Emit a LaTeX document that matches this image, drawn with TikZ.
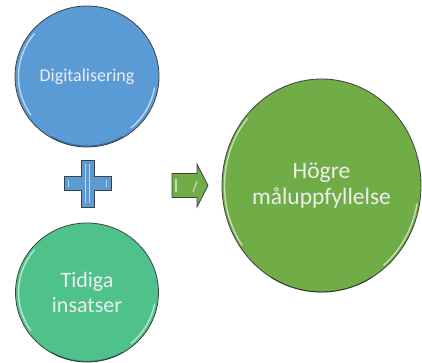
\documentclass[tikz,border=0pt]{standalone}
\usepackage{fontspec}
\setmainfont{Carlito}
\usetikzlibrary{shapes.geometric}

\definecolor{digblue}{HTML}{5B9BD5}
\definecolor{earlygreen}{HTML}{4FC28B}
\definecolor{goalgreen}{HTML}{70AD47}

\tikzset{
  bubble/.style={ellipse,draw=black!75,line width=0.8pt,inner sep=0pt,
    align=center,text=white!93!black},
  gloss/.style={white,line width=1.4pt,opacity=0.6,line cap=round},
  rim/.style={black,line width=1.2pt,opacity=0.3,line cap=round}
}

\begin{document}
\begin{tikzpicture}[x=1pt,y=1pt]
    \useasboundingbox (0,0) rectangle (422,362);

    % Two inputs on the left, the outcome on the right.
    \node[bubble,fill=digblue,minimum width=144,minimum height=141,
        font=\fontsize{18}{20}\selectfont] (dig) at (87,285.5) {Digitalisering};
    \node[bubble,fill=earlygreen,minimum width=143,minimum height=139,
        font=\fontsize{22}{25}\selectfont] (early) at (87,69.5) {Tidiga\\insatser};
    \node[bubble,fill=goalgreen,minimum width=199,minimum height=213,
        font=\fontsize{23.5}{26}\selectfont] (goal) at (321.5,176.5) {Högre\\måluppfyllelse};

    % Glass look: light streaks on the rim, darker lower edge.
    \draw[gloss] ([shift={(140:68.5 and 67)}]dig.center)
        arc[start angle=140,end angle=215,x radius=68.5,y radius=67];
    \draw[gloss] ([shift={(-10:68.5 and 67)}]dig.center)
        arc[start angle=-10,end angle=-50,x radius=68.5,y radius=67];
    \draw[rim] ([shift={(-60:71 and 69.5)}]dig.center)
        arc[start angle=-60,end angle=-120,x radius=71,y radius=69.5];

    \draw[gloss] ([shift={(140:68.5 and 66.5)}]early.center)
        arc[start angle=140,end angle=215,x radius=68.5,y radius=66.5];
    \draw[gloss] ([shift={(-10:68.5 and 66.5)}]early.center)
        arc[start angle=-10,end angle=-50,x radius=68.5,y radius=66.5];
    \draw[rim] ([shift={(-60:71 and 69)}]early.center)
        arc[start angle=-60,end angle=-120,x radius=71,y radius=69];

    \draw[gloss] ([shift={(140:97 and 104)}]goal.center)
        arc[start angle=140,end angle=215,x radius=97,y radius=104];
    \draw[gloss] ([shift={(-10:97 and 104)}]goal.center)
        arc[start angle=-10,end angle=-50,x radius=97,y radius=104];
    \draw[rim] ([shift={(-60:99.5 and 106.5)}]goal.center)
        arc[start angle=-60,end angle=-120,x radius=99.5,y radius=106.5];

    % Plus sign between the two inputs.
    \coordinate (plus) at (87.5,178.5);
    \filldraw[fill=digblue,draw=black!75,line width=0.8pt]
        ([shift={(-6.5,-23.5)}]plus) -- ++(13,0) -- ++(0,16.5) -- ++(17,0)
        -- ++(0,14) -- ++(-17,0) -- ++(0,16.5) -- ++(-13,0) -- ++(0,-16.5)
        -- ++(-17,0) -- ++(0,-14) -- ++(17,0) -- cycle;
    \draw[gloss,line width=1.2pt] ([shift={(-2,-19)}]plus) -- ++(0,38);
    \draw[gloss,line width=1.2pt] ([shift={(2,-19)}]plus) -- ++(0,38);
    \draw[gloss,line width=1.2pt] ([shift={(-19,-3)}]plus) -- ++(0,6);
    \draw[gloss,line width=1.2pt] ([shift={(19,-3)}]plus) -- ++(0,6);

    % Arrow pointing at the outcome.
    \coordinate (arrow) at (172,176.5);
    \filldraw[fill=goalgreen,draw=black!75,line width=0.8pt]
        ([shift={(0,-12)}]arrow) -- ++(25,0) -- ++(0,-9.5) -- ++(11,21.5)
        -- ++(-11,21.5) -- ++(0,-9.5) -- ++(-25,0) -- cycle;
    \draw[gloss,line width=1.2pt] ([shift={(4,-6)}]arrow) -- ++(0,12);
    \draw[gloss,line width=1.2pt] ([shift={(21,-6)}]arrow) -- ++(4,10);
\end{tikzpicture}
\end{document}
